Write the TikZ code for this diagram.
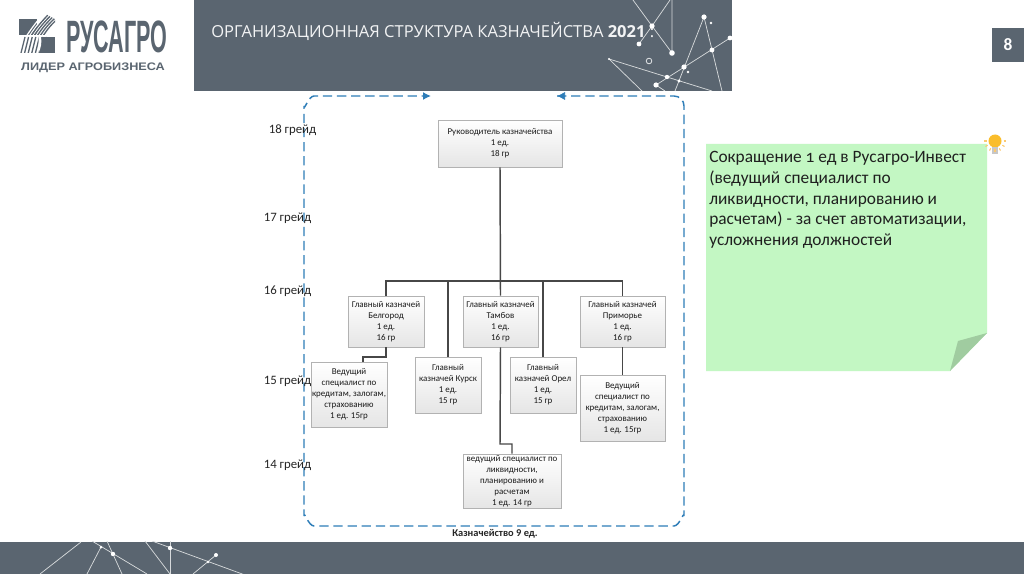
\documentclass[tikz,border=0pt]{standalone}
\usepackage{fontspec}
\setmainfont{Carlito}
\newfontfamily\titlefont{Open Sans}
\newfontfamily\logofont{Liberation Sans}
\newfontfamily\notefont[Numbers=OldStyle]{Carlito}
\usetikzlibrary{arrows.meta,shadows}
\definecolor{band}{HTML}{5A6570}
\definecolor{frameblue}{HTML}{2E7DB8}
\definecolor{notegreen}{HTML}{C3F7C3}
\definecolor{foldgreen}{HTML}{A0CCA0}
\definecolor{bulb}{HTML}{F9B233}
\tikzset{
  orgbox/.style 2 args={draw=black!30,line width=.7pt,top color=white,bottom color=black!10,
    minimum width=#1*0.75pt,minimum height=#2*0.75pt,inner sep=0pt,align=center,
    font=\fontsize{6.7}{8.2}\selectfont,text=black!90,
    drop shadow={shadow xshift=.8pt,shadow yshift=-.8pt,opacity=.3,fill=black}},
  link/.style={draw=black!72,line width=1.1pt},
  grade/.style={font=\fontsize{9.6}{11}\selectfont,text=black!85},
  dashframe/.style={draw=frameblue,line width=1.1pt,dash pattern=on 7pt off 3.6pt},
  spark/.style={draw=white!75!band,line width=.55pt},
}
\begin{document}
\begin{tikzpicture}[x=0.75pt,y=-0.75pt]
\useasboundingbox (0,0) rectangle (1024,574);
\fill[white] (0,0) rectangle (1024,574);
% header
\fill[band] (194,0) rectangle (732,91);
\begin{scope}
\clip (194,0) rectangle (732,91);
\draw[spark] (633,0) -- (652,26) -- (672,53) -- (672,0);
\draw[spark] (639,44) -- (652,26) -- (670,0);
\draw[spark] (675,91) -- (704,17) -- (722,91);
\draw[spark] (656,85) -- (730,38);
\draw[spark] (609,59) -- (712,91);
\draw[spark] (609,59) -- (642,91);
\draw[spark] (656,85) -- (665,91);
\foreach \x/\y/\r in {652/26/2.6,639/44/2.4,672/53/2.8,704/17/2.6,730/38/2.4,712/50/2.4,684/67/2.6,667/77/2.2,679/81/1.6,656/85/2.6,609/59/1.2,711/23/1.3,688/72/1.3}
  \fill[white] (\x,\y) circle[radius=\r*0.75pt];
\draw[white!85!band,line width=.6pt] (649,61) circle[radius=2.8*0.75pt];
\end{scope}
\node[anchor=west,inner sep=0pt,text=white!92!band,font=\titlefont\fontsize{12.4}{14}\selectfont] (title) at (211,31) {ОРГАНИЗАЦИОННАЯ СТРУКТУРА КАЗНАЧЕЙСТВА \textbf{2021} :};
% logo
\begin{scope}
\fill[band] (19,19) rectangle (36.5,35);
\fill[band] (38.5,37) rectangle (55,53);
\begin{scope}
\clip (19,12) rectangle (55,35);
\foreach \i in {0,...,5}{
  \draw[white,line width=.9pt] (24+\i*3,40) .. controls (29+\i*3,32) and (33+\i*3,26) .. (44+\i*2.2,13+\i*1.2);
}
\foreach \i in {1,...,5}{
  \draw[band,line width=1pt] (25.5+\i*3,40) .. controls (30.5+\i*3,32) and (34.5+\i*3,26) .. (45.5+\i*2.2,14+\i*1.2);
}
\end{scope}
\begin{scope}
\clip (19,37) rectangle (47,53);
\foreach \i in {0,...,6}{
  \draw[band,line width=1pt] (21+\i*3.6,53) -- (25+\i*3.6,37);
}
\end{scope}
\fill[white] (38.5,53) .. controls (41,48) and (42,42) .. (41,37) -- (38.5,37) -- cycle;
\end{scope}
\node[inner sep=0pt,text=band,xscale=.475,font=\logofont\bfseries\fontsize{34}{36}\selectfont] (logotext) at (117,36.5) {РУСАГРО};
\node[inner sep=0pt,text=band,font=\logofont\bfseries\fontsize{8.2}{10}\selectfont,xscale=1.16] (logosub) at (93,67.5) {ЛИДЕР АГРОБИЗНЕСА};
% page number
\fill[band] (992,28) rectangle (1024,62);
\node[text=white,inner sep=0pt,font=\bfseries\fontsize{13}{15}\selectfont] (pagenum) at (1008,45) {8};
% dashed frame
\coordinate (fa) at (431,96);
\coordinate (fb) at (557,96);
\draw[dashframe,-{Latex[length=6pt,width=6pt,fill=frameblue]}]
  (fb) -- (674,96) to[out=0,in=90] (684,106) -- (684,516) to[out=90,in=0] (674,526) -- (314,526) to[out=180,in=90] (304,516) -- (304,106) to[out=-90,in=180] (314,96) -- (fa);
\draw[frameblue,-{Latex[length=6pt,width=6pt]}] (563,96) -- (fb);
% grades
\node[grade] (g18) at (292.5,130) {18 грейд};
\node[grade] (g17) at (287.5,218) {17 грейд};
\node[grade] (g16) at (287.5,291) {16 грейд};
\node[grade] (g15) at (287.5,381) {15 грейд};
\node[grade] (g14) at (287.5,465) {14 грейд};
\coordinate (bus) at (500,281);
% boxes
\node[orgbox={124}{47}] (head) at (500,143.5) {Руководитель казначейства\\1 ед.\\18 гр};
\node[orgbox={76}{51}] (bel) at (386,321.5) {Главный казначей\\Белгород\\1 ед.\\16 гр};
\node[orgbox={75}{51}] (tam) at (500.5,321.5) {Главный казначей\\Тамбов\\1 ед.\\16 гр};
\node[orgbox={85}{51}] (pri) at (622.5,321.5) {Главный казначей\\Приморье\\1 ед.\\16 гр};
\node[orgbox={76}{65}] (lsp) at (349,394.5) {Ведущий\\специалист по\\кредитам, залогам,\\страхованию\\1 ед. 15гр};
\node[orgbox={66}{56}] (kur) at (448,385) {Главный\\казначей Курск\\1 ед.\\15 гр};
\node[orgbox={66}{56}] (ore) at (543,385) {Главный\\казначей Орел\\1 ед.\\15 гр};
\node[orgbox={85}{66}] (rsp) at (622.5,408) {Ведущий\\специалист по\\кредитам, залогам,\\страхованию\\1 ед. 15гр};
\node[orgbox={98}{54}] (bot) at (512,481) {ведущий специалист по\\ликвидности,\\планированию и\\расчетам\\1 ед. 14 гр};
% links
\draw[link] (head.south) -- (tam.north);
\draw[link] (bel.north) |- (bus) -| (pri.north);
\draw[link] (kur.north) -- (kur.north |- bus);
\draw[link] (ore.north) -- (ore.north |- bus);
\draw[link] (bel.south) -- (386,357) -| (363,362);
\draw[link] (tam.south) -- (500,444) -| (bot.north);
\draw[link] (pri.south) -- (rsp.north);
\node[font=\bfseries\fontsize{7.8}{9}\selectfont,inner sep=0pt,text=black!85] (total) at (495,534) {Казначейство 9 ед.};
% note
\fill[notegreen] (706,144) -- (987,144) -- (987,333) -- (950,371) -- (706,371) -- cycle;
\fill[foldgreen] (987,333) -- (958,341) -- (950,371) -- cycle;
\node[anchor=north west,inner sep=0pt,align=left,text=black!88,font=\notefont\fontsize{13}{15.6}\selectfont] (note) at (709,151) {Сокращение 1 ед в Русагро-Инвест\\(ведущий специалист по\\ликвидности, планированию и\\расчетам) - за счет автоматизации,\\усложнения должностей};
% bulb
\fill[bulb!85!yellow] (995,141) circle[radius=6.5*0.75pt];
\fill[black!22] (992,147) rectangle (998,154);
\foreach \a in {0,30,...,180}
  \draw[bulb!70!white,line width=.8pt] (995,141) ++({-\a}:8.5*0.75pt) -- ++({-\a}:2.5*0.75pt);
% footer
\fill[band] (0,541.5) rectangle (1024,574);
\begin{scope}
\clip (0,541.5) rectangle (1024,574);
\draw[spark] (81,542) -- (40,574);
\draw[spark] (101,547) -- (87,574);
\draw[spark] (92,541) -- (147,574);
\draw[spark] (107,541) -- (122,574);
\draw[spark] (145,541) -- (170,574);
\draw[spark] (170,541) -- (170,574);
\draw[spark] (152,541) -- (245,575);
\draw[spark] (216,555) -- (193,574);
\foreach \x/\y/\r in {101/547/1.5,113/554/2.2,170/548/2.2,216/555/2,208/562/1.3}
  \fill[white] (\x,\y) circle[radius=\r*0.75pt];
\end{scope}
\end{tikzpicture}
\end{document}
